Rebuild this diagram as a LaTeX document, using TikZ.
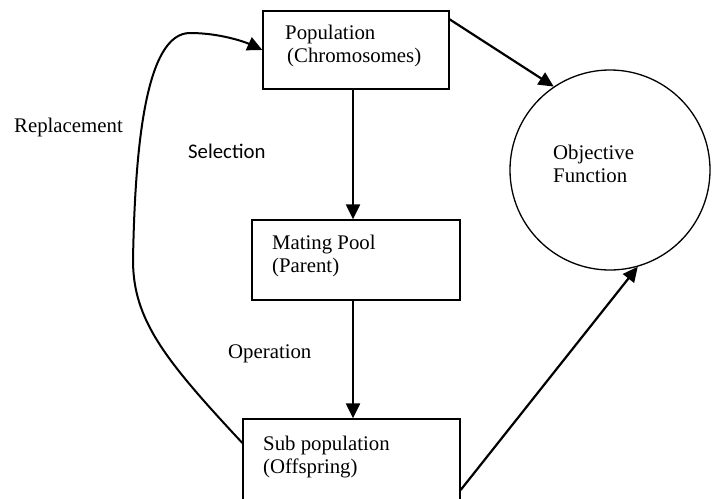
\documentclass[tikz,border=0pt]{standalone}
\usepackage{fontspec}
\setmainfont{Liberation Serif}
\newfontfamily\calibri{Carlito}
\usetikzlibrary{arrows.meta}

\begin{document}
\begin{tikzpicture}[x=1pt,y=-1pt,
    box/.style={draw,rectangle,line width=1.3pt},
    txt/.style={anchor=base west,align=left,font=\fontsize{20.8}{23}\selectfont},
    arr/.style={line width=2.2pt,-{Triangle[length=15pt,width=14pt]}}]
    \tikzstyle{every node}+=[inner sep=0pt]
    \useasboundingbox (0,0) rectangle (717,498);
    \node [box,minimum width=186pt,minimum height=78pt] (pop) at (356,50) {};
    \node [box,minimum width=208pt,minimum height=80pt] (mate) at (356,260) {};
    \node [box,minimum width=217pt,minimum height=86pt] (sub) at (351.5,462) {};
    \node [draw,circle,line width=1.3pt,minimum size=200pt] (obj) at (610,170) {};
    \node [txt] (poptxt) at (285,62) {Population\\\hspace{2pt}(Chromosomes)};
    \node [txt] (matetxt) at (272,272) {Mating Pool\\(Parent)};
    \node [txt] (subtxt) at (263,473) {Sub population\\(Offspring)};
    \node [txt] (objtxt) at (553,182) {Objective\\Function};
    \node [txt] (repl) at (14,132) {Replacement};
    \node [txt,font=\calibri\fontsize{20.8}{23}\selectfont] (sel) at (188,158) {Selection};
    \node [txt] (oper) at (228,358) {Operation};
    \draw [arr] ([xshift=-3pt]pop.south) -- ([xshift=-3pt]mate.north);
    \draw [arr] ([xshift=-3pt]mate.south) -- ([xshift=-3pt]mate.south |- sub.north);
    \draw [arr] ([yshift=-9pt]pop.north east) -- (obj.124);
    \draw [arr] ([yshift=-28pt]sub.east) -- (obj.-74);
    \draw [arr,line width=2pt] ([yshift=19pt]sub.west) .. controls (165,360) and (133,320) .. (133,260)
        .. controls (135,150) and (145,33) .. (190,33) .. controls (220,33) and (245,42) .. (pop.west);
\end{tikzpicture}
\end{document}
